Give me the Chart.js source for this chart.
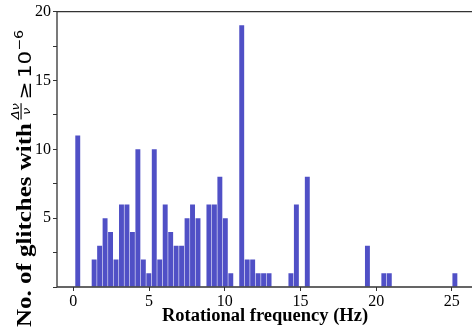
<!DOCTYPE html>
<html>
<head>
<meta charset="utf-8">
<script src="https://cdn.jsdelivr.net/npm/chart.js@4.4.1/dist/chart.umd.min.js"></script>
<style>
  html, body { margin: 0; padding: 0; background: #fff; overflow: hidden; }
  #wrap { width: 472px; height: 332px; }
</style>
</head>
<body>
<div id="wrap"><canvas id="histChart" width="472" height="332"></canvas></div>
<script>
// histogram: 70 bins of rotational frequency (Hz)
const binStart = 0.11;
const binWidth = 0.361;
const glitchCounts = [
  11, 0, 0, 2, 3, 5, 4, 2, 6, 6,
  4, 10, 2, 1, 10, 2, 6, 4, 3, 3,
  5, 6, 5, 0, 6, 6, 8, 5, 1, 0,
  19, 2, 2, 1, 1, 1, 0, 0, 0, 1,
  6, 0, 8, 0, 0, 0, 0, 0, 0, 0,
  0, 0, 0, 3, 0, 0, 1, 1, 0, 0,
  0, 0, 0, 0, 0, 0, 0, 0, 0, 1
];
const xTicks = [0, 5, 10, 15, 20, 25];
const yTicks = [5, 10, 15, 20];

const barColor = "rgb(80, 80, 198)";
const serif = "'Liberation Serif', 'Times New Roman', serif";

const points = glitchCounts.map((c, i) => ({ x: binStart + (i + 0.5) * binWidth, y: c }));

// draws the top/left/bottom spines
const framePlugin = {
  id: "frame",
  afterDraw(chart) {
    const { ctx, chartArea: a } = chart;
    ctx.save();
    ctx.strokeStyle = "#333";
    ctx.lineWidth = 1.3;
    ctx.beginPath();
    ctx.moveTo(a.left, a.bottom);
    ctx.lineTo(a.left, a.top);
    ctx.lineTo(a.right + 2, a.top);
    ctx.moveTo(a.left, a.bottom);
    ctx.lineTo(a.right + 2, a.bottom);
    ctx.stroke();
    ctx.restore();
  },
};

// axis titles; the y one has a small fraction so it is drawn by hand
const titlePlugin = {
  id: "titles",
  afterDraw(chart) {
    const ctx = chart.ctx;
    ctx.save();
    ctx.fillStyle = "#000";
    ctx.textBaseline = "alphabetic";

    ctx.textAlign = "center";
    ctx.font = "bold 18.5px " + serif;
    ctx.fillText("Rotational frequency (Hz)", 265, 321);

    ctx.textAlign = "left";
    ctx.translate(31, 327);
    ctx.rotate(-Math.PI / 2);

    ctx.font = "bold 21px " + serif;
    const main = "No. of glitches with";
    // the label in the reference runs long, so stretch it along its length
    ctx.scale(204 / ctx.measureText(main).width, 1);

    let x = 0;
    ctx.fillText(main, x, 0);
    x += ctx.measureText(main).width + 3;

    // fraction Δν / ν
    ctx.font = "italic 11px 'DejaVu Sans'";
    const num = "Δν";
    const numW = ctx.measureText(num).width;
    ctx.fillText(num, x, -12);
    ctx.fillText("ν", x + numW / 2 - ctx.measureText("ν").width / 2, -1);
    ctx.fillRect(x, -10.5, numW, 1.1);
    x += numW + 3;

    ctx.font = "18px 'DejaVu Sans'";
    ctx.fillText("≥", x, 0);
    x += ctx.measureText("≥").width + 3;
    ctx.fillText("10", x, 0);
    x += ctx.measureText("10").width;
    ctx.font = "12px 'DejaVu Sans'";
    ctx.fillText("−6", x, -8);
    ctx.restore();
  },
};

new Chart(document.getElementById("histChart"), {
  type: "bar",
  data: {
    datasets: [
      {
        data: points,
        backgroundColor: barColor,
        borderWidth: 0,
        barPercentage: 0.9,
        categoryPercentage: 1,
      },
    ],
  },
  options: {
    responsive: false,
    animation: false,
    layout: { padding: { top: 10, right: 0, left: 0, bottom: 0 } },
    plugins: { legend: { display: false }, tooltip: { enabled: false } },
    scales: {
      x: {
        type: "linear",
        offset: false,
        min: -1.08,
        max: 26.33,
        afterBuildTicks(axis) {
          axis.ticks = xTicks.map((v) => ({ value: v }));
        },
        afterFit(axis) { axis.height = 45; },
        grid: {
          offset: false,
          drawOnChartArea: false,
          drawTicks: true,
          tickLength: 4,
          tickWidth: 1,
          tickColor: "#333",
        },
        border: { display: false },
        ticks: {
          color: "#000",
          padding: 1,
          maxRotation: 0,
          font: { family: serif, size: 16 },
        },
      },
      y: {
        min: 0,
        max: 20,
        afterBuildTicks(axis) {
          const t = [];
          for (let v = 0; v <= 20; v += 2.5) t.push({ value: v });
          axis.ticks = t;
        },
        afterFit(axis) { axis.width = 57; },
        grid: {
          drawOnChartArea: false,
          drawTicks: true,
          tickLength: 4,
          tickWidth: 1,
          tickColor: "#333",
        },
        border: { display: false },
        ticks: {
          color: "#000",
          padding: 2,
          font: { family: serif, size: 16 },
          callback: (v) => (yTicks.includes(v) ? String(v) : ""),
        },
      },
    },
  },
  plugins: [framePlugin, titlePlugin],
});
</script>
</body>
</html>
